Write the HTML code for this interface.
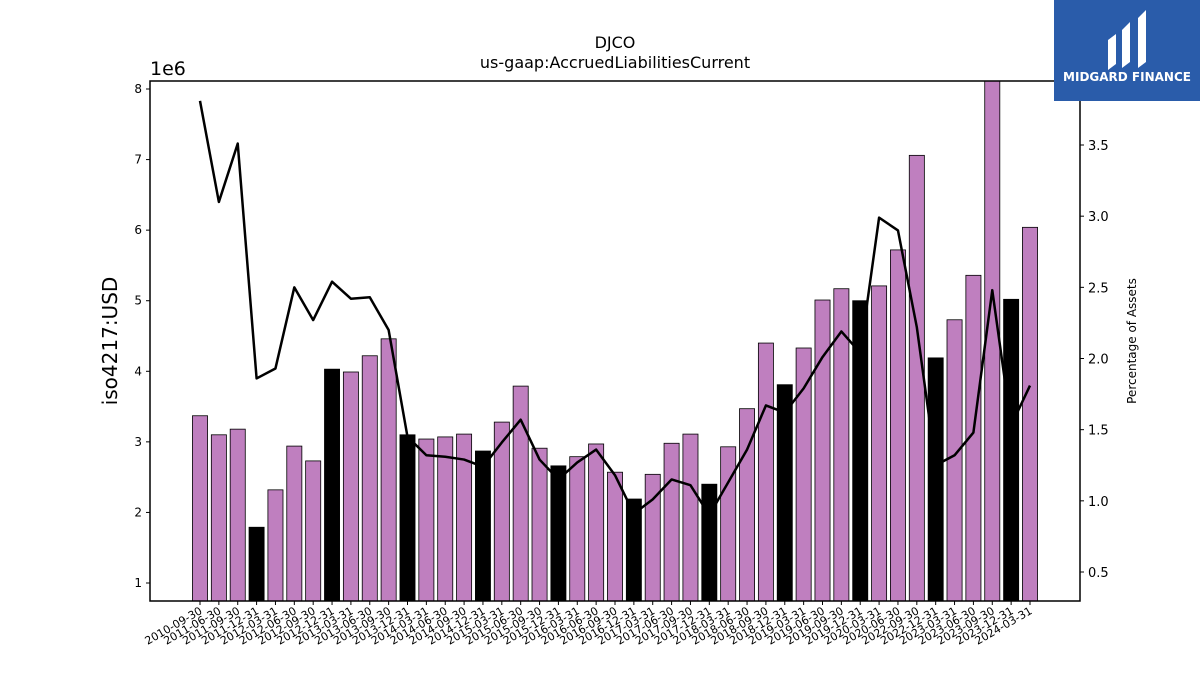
<!DOCTYPE html>
<html><head><meta charset="utf-8"><style>
body{margin:0;background:#fff;}
svg text{font-family:"DejaVu Sans","Liberation Sans",sans-serif;}
</style></head><body>
<svg id="c" width="1200" height="675" xmlns="http://www.w3.org/2000/svg">
<text x="615" y="48" font-size="16" text-anchor="middle">DJCO</text>
<text x="615" y="68" font-size="16" text-anchor="middle">us-gaap:AccruedLiabilitiesCurrent</text>
<text x="150" y="75" font-size="19">1e6</text>
<text transform="translate(117,341) rotate(-90)" font-size="20" text-anchor="middle">iso4217:USD</text>
<text transform="translate(1136,341) rotate(-90)" font-size="12" text-anchor="middle">Percentage of Assets</text>
<g id="bars"></g>
<g id="axes"></g>
<rect x="150" y="81" width="930" height="520" fill="none" stroke="#000" stroke-width="1.5"/>
<g>
<rect x="1054" y="0" width="146" height="101" fill="#2a5caa"/>
<path d="M1108 40 l8 -6 v30 l-8 6z M1122 30 l8 -8 v40 l-8 6z M1138 18 l8 -8 v52 l-8 6z" fill="#fff"/>
<text x="1127" y="81" font-size="12" font-weight="bold" fill="#fff" text-anchor="middle">MIDGARD FINANCE</text>
</g>
</svg>
<script>
const categories=["2010-09-30","2011-06-30","2011-09-30","2011-12-31","2012-03-31","2012-06-30","2012-09-30","2012-12-31","2013-03-31","2013-06-30","2013-09-30","2013-12-31","2014-03-31","2014-06-30","2014-09-30","2014-12-31","2015-03-31","2015-06-30","2015-09-30","2015-12-31","2016-03-31","2016-06-30","2016-09-30","2016-12-31","2017-03-31","2017-06-30","2017-09-30","2017-12-31","2018-03-31","2018-06-30","2018-09-30","2018-12-31","2019-03-31","2019-06-30","2019-09-30","2019-12-31","2020-03-31","2020-06-30","2022-09-30","2022-12-31","2023-03-31","2023-06-30","2023-09-30","2023-12-31","2024-03-31"];
const liabilities=[3.37,3.10,3.18,1.79,2.32,2.94,2.73,4.03,3.99,4.22,4.46,3.10,3.04,3.07,3.11,2.87,3.28,3.79,2.91,2.66,2.79,2.97,2.57,2.19,2.54,2.98,3.11,2.40,2.93,3.47,4.40,3.81,4.33,5.01,5.17,5.00,5.21,5.72,7.06,4.19,4.73,5.36,8.14,5.02,6.04];
const pctAssets=[3.81,3.10,3.51,1.86,1.93,2.50,2.27,2.54,2.42,2.43,2.20,1.45,1.32,1.31,1.29,1.24,1.41,1.57,1.29,1.15,1.27,1.36,1.18,0.91,1.01,1.15,1.11,0.90,1.13,1.36,1.67,1.62,1.79,2.01,2.19,2.04,2.99,2.90,2.22,1.25,1.32,1.48,2.48,1.53,1.81];
const leftTicks=[1,2,3,4,5,6,7,8];
const rightTicks=[0.5,1.0,1.5,2.0,2.5,3.0,3.5];
const NS="http://www.w3.org/2000/svg";
const X0=150,X1=1080,Y0=81,Y1=601;
const n=categories.length;
const xFirst=200,xLast=1030;
const step=(xLast-xFirst)/(n-1);
const x=i=>xFirst+i*step;
const yL=v=>583-(v-1)*70.57;
const yR=v=>572-(v-0.5)*142.33;
function mk(t,a,p){const e=document.createElementNS(NS,t);for(const k in a)e.setAttribute(k,a[k]);p.appendChild(e);return e;}
const bars=document.getElementById('bars'),axes=document.getElementById('axes');
const cp=mk('clipPath',{id:'cp'},bars);mk('rect',{x:X0,y:Y0,width:X1-X0,height:Y1-Y0},cp);
const bg=mk('g',{'clip-path':'url(#cp)'},bars);
const bw=step*0.8;
liabilities.forEach((v,i)=>{
 const dec=categories[i].endsWith('12-31');
 const top=yL(v);
 const r=mk('rect',{x:x(i)-bw/2,y:top,width:bw,height:Y1-top,fill:dec?'#000':'#bf7fbf',stroke:'#000','stroke-width':0.8},bg);
 
 
});
const pts=pctAssets.map((v,i)=>x(i)+','+yR(v)).join(' ');
const pl=mk('polyline',{points:pts,fill:'none',stroke:'#000','stroke-width':2.5,'stroke-linejoin':'round'},bg);


leftTicks.forEach(v=>{const y=yL(v);mk('line',{x1:X0-4,x2:X0,y1:y,y2:y,stroke:'#000'},axes);
 const t=mk('text',{x:X0-8,y:y+4,'font-size':12,'text-anchor':'end'},axes);t.textContent=v;
 
 });
rightTicks.forEach(v=>{const y=yR(v);mk('line',{x1:X1,x2:X1+4,y1:y,y2:y,stroke:'#000'},axes);
 const t=mk('text',{x:X1+8,y:y+5,'font-size':13},axes);t.textContent=v.toFixed(1);
 
 });
categories.forEach((c,i)=>{const xx=x(i);mk('line',{x1:xx,x2:xx,y1:Y1,y2:Y1+4,stroke:'#000'},axes);
 const t=mk('text',{transform:`translate(${xx+3},${Y1+12}) rotate(-30)`,'font-size':11,'text-anchor':'end'},axes);t.textContent=c;
 
 });
</script>
</body></html>
